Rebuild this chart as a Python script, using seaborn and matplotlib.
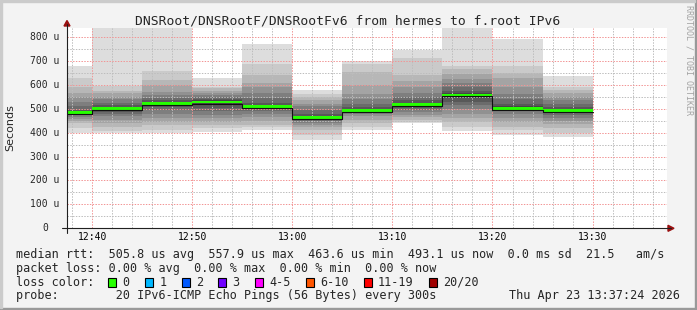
import matplotlib
matplotlib.use("Agg")
import matplotlib.pyplot as plt
import numpy as np
import pandas as pd
import seaborn as sns
from matplotlib.patches import Rectangle, Polygon
from matplotlib.lines import Line2D

# ---------------- data ----------------
title = "DNSRoot/DNSRootF/DNSRootFv6 from hermes to f.root IPv6"
ylabel = "Seconds"
bar_start = ["12:35", "12:40", "12:45", "12:50", "12:55", "13:00",
             "13:05", "13:10", "13:15", "13:20", "13:25"]
step_minutes = 5
median_us = [483, 500, 521, 528, 508, 463.6, 493, 517, 557.9, 502, 493.1]

# 20 sorted ping rtts (microseconds) per 5-minute step
smoke_1235 = [400, 421, 440, 450, 458, 466, 472, 477, 480, 482, 484, 488, 495, 510, 530, 551, 565, 590, 627, 679]
smoke_1240 = [400, 407, 425, 439, 455, 470, 480, 488, 494, 498, 502, 508, 516, 526, 540, 551, 565, 576, 597, 880]
smoke_1245 = [398, 410, 432, 446, 461, 480, 495, 508, 515, 519, 523, 528, 535, 545, 558, 572, 600, 620, 658, 900]
smoke_1250 = [404, 418, 432, 446, 460, 475, 490, 505, 515, 524, 531, 537, 542, 550, 558, 565, 575, 585, 593, 627]
smoke_1255 = [411, 422, 432, 448, 465, 480, 490, 498, 503, 506, 510, 516, 525, 545, 565, 590, 606, 640, 686, 771]
smoke_1300 = [369, 390, 410, 425, 432, 442, 450, 456, 460, 462, 465, 470, 480, 495, 510, 522, 536, 550, 561, 578]
smoke_1305 = [411, 425, 440, 455, 468, 478, 485, 489, 491, 492, 494, 500, 508, 520, 540, 560, 600, 655, 686, 700]
smoke_1310 = [440, 446, 455, 465, 475, 485, 495, 503, 510, 515, 519, 525, 535, 551, 565, 593, 615, 641, 711, 746]
smoke_1315 = [407, 425, 445, 460, 480, 500, 515, 530, 545, 555, 561, 566, 575, 590, 606, 625, 645, 665, 680, 870]
smoke_1320 = [392, 410, 425, 445, 462, 478, 490, 497, 500, 502, 504, 510, 522, 540, 560, 590, 630, 650, 680, 792]
smoke_1325 = [380, 398, 420, 435, 448, 462, 475, 484, 490, 493, 495, 500, 508, 520, 535, 551, 565, 580, 593, 638]

x_tick_labels = ["12:40", "12:50", "13:00", "13:10", "13:20", "13:30"]
y_tick_values = [0, 100, 200, 300, 400, 500, 600, 700, 800]
y_tick_labels = ["0", "100 u", "200 u", "300 u", "400 u", "500 u", "600 u", "700 u", "800 u"]
window_end = "13:37:24"

legend_rtt = "median rtt:  505.8 us avg  557.9 us max  463.6 us min  493.1 us now  0.0 ms sd  21.5   am/s"
legend_loss = "packet loss: 0.00 % avg  0.00 % max  0.00 % min  0.00 % now"
legend_color_head = "loss color:"
loss_labels = ["0", "1", "2", "3", "4-5", "6-10", "11-19", "20/20"]
loss_colors = ["#26ff00", "#00b8ff", "#0059ff", "#7000ff", "#ff00ff", "#ff5500", "#ff0000", "#a00000"]
probe_text = "probe:        20 IPv6-ICMP Echo Pings (56 Bytes) every 300s"
timestamp = "Thu Apr 23 13:37:24 2026"
watermark = "RRDTOOL / TOBI OETIKER"

# ---------------- helpers ----------------
def to_min(s):
    parts = [int(p) for p in s.split(":")]
    h, m = parts[0], parts[1]
    sec = parts[2] if len(parts) > 2 else 0
    return (h - 12) * 60 + m + sec / 60.0

W, H, DPI = 697, 310, 100
def fx(x):
    return x / W
def fy(y):
    return 1 - y / H

sns.set_style("white")
plt.rcParams['font.family'] = ['DejaVu Sans Mono', 'DejaVu Sans']

fig = plt.figure(figsize=(W / DPI, H / DPI), dpi=DPI, facecolor="#f3f3f3")

# frame shading
fig.patches.append(Rectangle((0, 0), 1, 2 / H, transform=fig.transFigure, color="#999999", zorder=0))
fig.patches.append(Rectangle((1 - 2 / W, 0), 2 / W, 1, transform=fig.transFigure, color="#999999", zorder=0))
fig.patches.append(Rectangle((0, 1 - 2 / H), 1 - 2 / W, 2 / H, transform=fig.transFigure, color="#cbcbcb", zorder=0))
fig.patches.append(Rectangle((0, 2 / H), 2 / W, 1 - 4 / H, transform=fig.transFigure, color="#cbcbcb", zorder=0))

ax_left, ax_right, ax_top, ax_bottom = 67, 667, 28, 228.3
ax = fig.add_axes([fx(ax_left), fy(ax_bottom), (ax_right - ax_left) / W, (ax_bottom - ax_top) / H])
ax.set_facecolor("white")

t_end = to_min(window_end)
ax.set_xlim(t_end - 60 + 0.05, t_end + 0.05)
ax.set_ylim(0, 838)

starts = np.array([to_min(s) for s in bar_start])
smokes = np.array([smoke_1235, smoke_1240, smoke_1245, smoke_1250, smoke_1255, smoke_1300,
                   smoke_1305, smoke_1310, smoke_1315, smoke_1320, smoke_1325], dtype=float)
npings = smokes.shape[1]
half = npings // 2
for k in range(half):
    shade = int(190 / half * (half - (k + 1))) + 50
    col = "#%02x%02x%02x" % (shade, shade, shade)
    ax.bar(starts, smokes[:, npings - 1 - k] - smokes[:, k], bottom=smokes[:, k],
           width=step_minutes, align="edge", color=col, linewidth=0, zorder=1)

med = np.array(median_us)
# green median band
ax.bar(starts, 11, bottom=med - 5, width=step_minutes, align="edge",
       color=loss_colors[0], linewidth=0, zorder=3)
# black median step
df_med = pd.DataFrame({"t": np.append(starts, starts[-1] + step_minutes),
                       "v": np.append(med - 6, med[-1] - 6)})
sns.lineplot(data=df_med, x="t", y="v", drawstyle="steps-post", color="#101010",
             linewidth=0.8, ax=ax, zorder=4)

# grid & ticks
major_x = [to_min(s) for s in x_tick_labels]
ax.set_xticks(major_x)
ax.set_xticklabels(x_tick_labels, fontsize=7)
ax.set_xticks(np.arange(38, 98, 2), minor=True)
ax.set_yticks(y_tick_values)
ax.set_yticklabels([])
ax.set_yticks(np.arange(50, 838, 100), minor=True)
ax.set_xlabel("")
ax.set_ylabel("")
ax.grid(which="major", color="#f29595", linestyle=(0, (1.4, 1.4)), linewidth=0.72,
        antialiased=True, snap=True)
ax.grid(which="minor", color="#bdbdbd", linestyle=(0, (1.4, 1.4)), linewidth=0.72,
        antialiased=True, snap=True)
ax.set_axisbelow(False)
ax.tick_params(axis="x", which="major", direction="inout", length=3, width=0.72,
               color="#e07070", pad=1.5, labelcolor="black")
ax.tick_params(axis="x", which="minor", direction="inout", length=2, width=0.72, color="#909090")
ax.tick_params(axis="y", which="major", direction="inout", length=3, width=0.72, color="#e07070", pad=0)
ax.tick_params(axis="y", which="minor", direction="inout", length=2, width=0.72, color="#909090")
for sp in ax.spines.values():
    sp.set_visible(False)

# y tick labels (monospace, rrdtool style)
for v, lab in zip(y_tick_values, y_tick_labels):
    xr = 59 if lab.endswith("u") else 48
    ypx = ax_bottom - v * (ax_bottom - ax_top) / 838
    fig.text(fx(xr), fy(ypx), lab, ha="right", va="center", fontsize=7)

# axis lines + arrows
fig.add_artist(Line2D([fx(62), fx(671)], [fy(ax_bottom), fy(ax_bottom)], color="#202020", lw=0.8))
fig.add_artist(Line2D([fx(ax_left), fx(ax_left)], [fy(233), fy(24)], color="#202020", lw=0.8))
fig.add_artist(Polygon([[fx(668), fy(225.3)], [fx(668), fy(231.3)], [fx(674), fy(ax_bottom)]],
                       closed=True, color="#9a1010", transform=fig.transFigure))
fig.add_artist(Polygon([[fx(64), fy(26)], [fx(70), fy(26)], [fx(ax_left), fy(20.5)]],
                       closed=True, color="#9a1010", transform=fig.transFigure))

# title, ylabel, watermark
fig.text(fx(348), fy(24), title, ha="center", va="baseline", fontsize=9.35)
fig.text(fx(10), fy(128), ylabel, rotation=90, ha="center", va="center",
         fontsize=8, family=["DejaVu Sans"])
fig.text(fx(688.5), fy(5), watermark, rotation=270, ha="center", va="top",
         fontsize=6, color="#a3a3a3")

# legend
x0, cw = 16, 7.11
fs = 8.5
fig.text(fx(x0), fy(258.3), legend_rtt, ha="left", va="baseline", fontsize=fs)
fig.text(fx(x0), fy(272), legend_loss, ha="left", va="baseline", fontsize=fs)
fig.text(fx(x0), fy(285.7), legend_color_head, ha="left", va="baseline", fontsize=fs)
pos = 13.0
for lab, col in zip(loss_labels, loss_colors):
    bx = x0 + pos * cw
    fig.patches.append(Rectangle((fx(bx), fy(286.7)), 8 / W, 8.4 / H, transform=fig.transFigure,
                                 facecolor=col, edgecolor="black", linewidth=0.8, zorder=3))
    fig.text(fx(x0 + (pos + 2) * cw), fy(285.7), lab, ha="left", va="baseline", fontsize=fs)
    pos = pos + 2 + len(lab) + 2.15
fig.text(fx(x0), fy(299.3), probe_text, ha="left", va="baseline", fontsize=fs)
fig.text(fx(680), fy(299.3), timestamp, ha="right", va="baseline", fontsize=fs)

fig.savefig("out.png", dpi=DPI, facecolor=fig.get_facecolor())
